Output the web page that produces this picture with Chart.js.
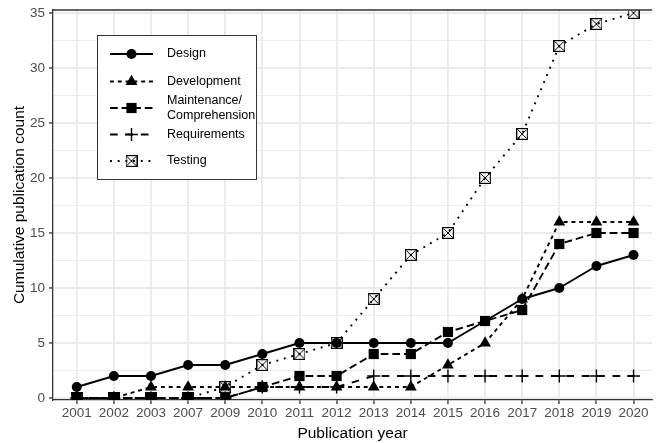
<!DOCTYPE html>
<html>
<head>
<meta charset="utf-8">
<script src="https://cdn.jsdelivr.net/npm/chart.js@4.4.1/dist/chart.umd.min.js"></script>
<style>
  html, body { margin: 0; padding: 0; background: #fff; overflow: hidden; }
  #wrap { width: 660px; height: 443px; }
</style>
</head>
<body>
<div id="wrap"><canvas id="chart" width="660" height="443"></canvas></div>
<script>
// Publication years (categories on the x axis)
const years = ['2001', '2002', '2003', '2007', '2009', '2010', '2011', '2012',
               '2013', '2014', '2015', '2016', '2017', '2018', '2019', '2020'];

// Cumulative publication counts per research area
const design       = [1, 2, 2, 3, 3, 4, 5, 5, 5, 5, 5, 7, 9, 10, 12, 13];
const development  = [0, 0, 1, 1, 1, 1, 1, 1, 1, 1, 3, 5, 9, 16, 16, 16];
const maintenance  = [0, 0, 0, 0, 0, 1, 2, 2, 4, 4, 6, 7, 8, 14, 15, 15];
const requirements = [0, 0, 0, 0, 0, 1, 1, 1, 2, 2, 2, 2, 2, 2, 2, 2];
const testing      = [0, 0, 0, 0, 1, 3, 4, 5, 9, 13, 15, 20, 24, 32, 34, 35];

const seriesLabels = ['Design', 'Development', 'Maintenance/\nComprehension', 'Requirements', 'Testing'];

// Labelled y ticks; minor grid lines fall halfway between them
const yTicks = [0, 5, 10, 15, 20, 25, 30, 35];

const FONT = '"Liberation Sans", Arial, Helvetica, sans-serif';
const LW = 1.9;

// open square with a diagonal cross inside
function boxCross(size) {
  const c = document.createElement('canvas');
  c.width = size; c.height = size;
  const g = c.getContext('2d');
  g.strokeStyle = '#000';
  g.lineWidth = 1.2;
  g.strokeRect(0.6, 0.6, size - 1.2, size - 1.2);
  g.lineWidth = 1;
  g.beginPath();
  g.moveTo(1.5, 1.5); g.lineTo(size - 1.5, size - 1.5);
  g.moveTo(size - 1.5, 1.5); g.lineTo(1.5, size - 1.5);
  g.stroke();
  return c;
}
const boxCrossMarker = boxCross(12);

const styles = [
  { dash: [],               pointStyle: 'circle',   radius: 5.0, bw: 0 },
  { dash: [3.9, 3.9],       pointStyle: 'triangle', radius: 6.8, bw: 0 },
  { dash: [7.7, 3.9],       pointStyle: 'rect',     radius: 7.2, bw: 0 },
  { dash: [7.7, 7.7],       pointStyle: 'cross',    radius: 6.5, bw: 1.4 },
  { dash: [1.9, 5.8],       pointStyle: boxCrossMarker, radius: 6, bw: 0 }
];

const seriesValues = [design, development, maintenance, requirements, testing];

const minorTicks = [];
for (let i = 0; i < yTicks.length - 1; i++) minorTicks.push((yTicks[i] + yTicks[i + 1]) / 2);
const yAllTicks = yTicks.concat(minorTicks).sort((a, b) => a - b);
const isMajor = v => yTicks.includes(v);

const datasets = seriesValues.map((vals, k) => ({
  label: seriesLabels[k],
  data: vals.map((v, i) => ({ x: i, y: v })),
  borderColor: '#000',
  backgroundColor: '#000',
  borderWidth: LW,
  borderDash: styles[k].dash,
  borderCapStyle: 'butt',
  borderJoinStyle: 'round',
  pointStyle: styles[k].pointStyle,
  pointRadius: styles[k].radius,
  pointHoverRadius: styles[k].radius,
  pointBorderWidth: styles[k].bw,
  pointBackgroundColor: '#000',
  pointBorderColor: '#000',
  fill: false,
  tension: 0,
  order: seriesValues.length - 1 - k
}));

// top edge of the panel border
const panelTop = {
  id: 'panelTop',
  afterDatasetsDraw(chart) {
    const { ctx, chartArea } = chart;
    ctx.save();
    ctx.strokeStyle = '#333';
    ctx.lineWidth = 1.3;
    ctx.beginPath();
    ctx.moveTo(chartArea.left, chartArea.top);
    ctx.lineTo(chartArea.right, chartArea.top);
    ctx.stroke();
    ctx.restore();
  }
};

// boxed legend drawn inside the plot panel
const insetLegend = {
  id: 'insetLegend',
  afterDraw(chart) {
    const { ctx } = chart;
    const box = { x: 97, y: 35, w: 159, h: 144 };
    const rows = [54, 81.5, 108, 134.5, 161];
    const keyL = 110, keyR = 153, keyC = 131.5, textX = 167;
    ctx.save();
    ctx.fillStyle = '#fff';
    ctx.fillRect(box.x, box.y, box.w, box.h);
    ctx.strokeStyle = '#333';
    ctx.lineWidth = 1;
    ctx.strokeRect(box.x + 0.5, box.y + 0.5, box.w, box.h);
    chart.data.datasets.forEach((ds, k) => {
      const y = rows[k];
      ctx.save();
      ctx.strokeStyle = '#000';
      ctx.lineWidth = ds.borderWidth;
      ctx.lineCap = 'butt';
      ctx.setLineDash(ds.borderDash);
      ctx.beginPath();
      ctx.moveTo(keyL, y);
      ctx.lineTo(keyR, y);
      ctx.stroke();
      ctx.restore();
      ctx.save();
      ctx.fillStyle = '#000';
      ctx.strokeStyle = '#000';
      ctx.lineWidth = ds.pointBorderWidth;
      Chart.helpers.drawPoint(ctx, {
        pointStyle: ds.pointStyle,
        radius: ds.pointRadius,
        rotation: 0,
        borderWidth: ds.pointBorderWidth
      }, keyC, y);
      ctx.restore();
      ctx.fillStyle = '#000';
      ctx.font = '12.5px ' + FONT;
      ctx.textBaseline = 'middle';
      ctx.textAlign = 'left';
      const lines = ds.label.split('\n');
      const lh = 14.3;
      lines.forEach((t, j) => {
        ctx.fillText(t, textX, y + (j - (lines.length - 1) / 2) * lh);
      });
    });
    ctx.restore();
  }
};

new Chart(document.getElementById('chart'), {
  type: 'line',
  data: { datasets },
  options: {
    responsive: false,
    animation: false,
    devicePixelRatio: 1,
    layout: { padding: { top: 10, left: 0, right: 0, bottom: 0 } },
    plugins: { legend: { display: false }, tooltip: { enabled: false } },
    scales: {
      x: {
        type: 'linear',
        min: -0.64,
        max: 15.5,
        afterBuildTicks: s => { s.ticks = years.map((_, i) => ({ value: i })); },
        afterFit: s => { s.height = 43; s.paddingLeft = 0; s.paddingRight = 0; },
        ticks: {
          callback: v => years[v],
          autoSkip: false,
          maxRotation: 0,
          color: '#4D4D4D',
          font: { family: FONT, size: 13.5 },
          padding: 1
        },
        grid: {
          color: '#EBEBEB',
          lineWidth: LW,
          tickColor: '#333',
          tickLength: 4,
          tickWidth: 1.3
        },
        border: { display: true, color: '#333', width: 1.3 },
        title: {
          display: true,
          text: 'Publication year',
          color: '#000',
          font: { family: FONT, size: 15.5 },
          padding: { top: 2, bottom: 0 }
        }
      },
      y: {
        type: 'linear',
        min: -0.18,
        max: 35.27,
        afterBuildTicks: s => { s.ticks = yAllTicks.map(v => ({ value: v })); },
        afterFit: s => { s.width = 53; s.paddingTop = 0; s.paddingBottom = 0; },
        ticks: {
          callback: v => (isMajor(v) ? String(v) : ''),
          autoSkip: false,
          color: '#4D4D4D',
          font: { family: FONT, size: 13.5 },
          padding: 4
        },
        grid: {
          color: '#EBEBEB',
          lineWidth: ctx => (ctx.tick && isMajor(ctx.tick.value) ? LW : LW / 2),
          tickColor: ctx => (ctx.tick && isMajor(ctx.tick.value) ? '#333' : 'rgba(0,0,0,0)'),
          tickLength: 4,
          tickWidth: 1.3
        },
        border: { display: true, color: '#333', width: 1.3 },
        title: {
          display: true,
          text: 'Cumulative publication count',
          color: '#000',
          font: { family: FONT, size: 15.5 },
          padding: { top: 10, bottom: 0 }
        }
      }
    }
  },
  plugins: [panelTop, insetLegend]
});
</script>
</body>
</html>
